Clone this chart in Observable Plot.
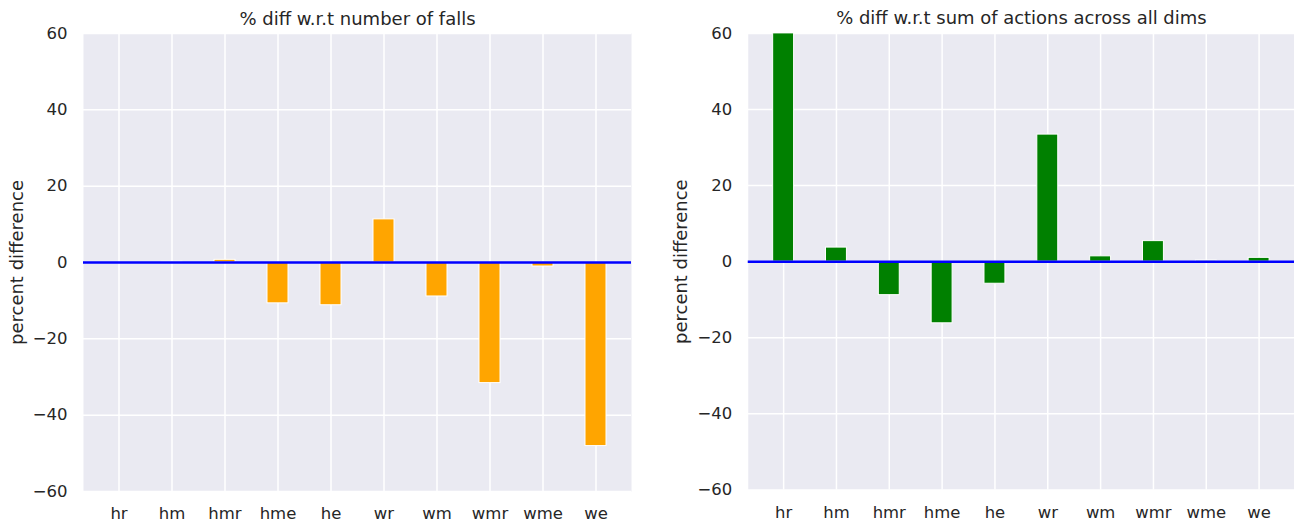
<!DOCTYPE html>
<html>
<head>
<meta charset="utf-8">
<script src="https://cdn.jsdelivr.net/npm/d3@7"></script>
<script src="https://cdn.jsdelivr.net/npm/@observablehq/plot@0.6"></script>
<style>
  html, body { margin: 0; padding: 0; background: #ffffff; overflow: hidden; width: 1294px; height: 521px; }
  #wrap { position: relative; width: 1294px; height: 521px; }
  #left { position: absolute; left: 0; top: 0; }
  #right { position: absolute; left: 665px; top: 0; }
</style>
</head>
<body>
<div id="wrap"><div id="left"></div><div id="right"></div></div>
<script>
const categories = ["hr", "hm", "hmr", "hme", "he", "wr", "wm", "wmr", "wme", "we"];
const fallsDiff = [0, 0.2, 0.7, -10.7, -11.2, 11.3, -8.9, -31.6, -1.05, -48.1];
const actionsDiff = [60, 3.7, -8.8, -16.2, -5.8, 33.4, 1.4, 5.4, 0.3, 1.0];
const yTicks = [-60, -40, -20, 0, 20, 40, 60];
const leftTitle = "% diff w.r.t number of falls";
const rightTitle = "% diff w.r.t sum of actions across all dims";
const yLabel = "percent difference";

const textColor = "#262626";
const font = "DejaVu Sans, sans-serif";

function panel(values, color, title, width, marginRight) {
  const data = categories.map((c, i) => ({cat: c, v: values[i]}));
  return Plot.plot({
    width,
    height: 521,
    marginLeft: 83,
    marginRight,
    marginTop: 33,
    marginBottom: 30,
    style: {fontFamily: font, fontSize: "16.5px", color: textColor, background: "transparent", overflow: "visible"},
    x: {domain: categories, paddingInner: 0.6, paddingOuter: 0.45},
    y: {domain: [-60, 60]},
    marks: [
      Plot.frame({fill: "#EAEAF2", stroke: null}),
      Plot.gridX({stroke: "white", strokeOpacity: 1, strokeWidth: 1.5}),
      Plot.gridY(yTicks, {stroke: "white", strokeOpacity: 1, strokeWidth: 1.5}),
      Plot.barY(data, {x: "cat", y: "v", fill: color, stroke: "white", strokeWidth: 1, clip: true}),
      Plot.ruleY([0], {stroke: "blue", strokeWidth: 2.5}),
      Plot.axisX({tickSize: 0, tickPadding: 16, label: null, fontSize: 16.5, fill: textColor}),
      Plot.axisY(yTicks, {tickSize: 0, tickPadding: 16, label: null, fontSize: 16.5, fill: textColor,
        tickFormat: d => d < 0 ? "\u2212" + Math.abs(d) : String(d)}),
      Plot.text([title], {frameAnchor: "top", textAnchor: "middle", lineAnchor: "bottom", dy: -9, fontSize: 18, fill: textColor}),
      Plot.text([yLabel], {frameAnchor: "left", textAnchor: "middle", lineAnchor: "bottom", rotate: -90, dx: -61, fontSize: 18, fill: textColor})
    ]
  });
}

document.getElementById("left").appendChild(panel(fallsDiff, "orange", leftTitle, 647, 16));
document.getElementById("right").appendChild(panel(actionsDiff, "green", rightTitle, 631, 0));
</script>
</body>
</html>
